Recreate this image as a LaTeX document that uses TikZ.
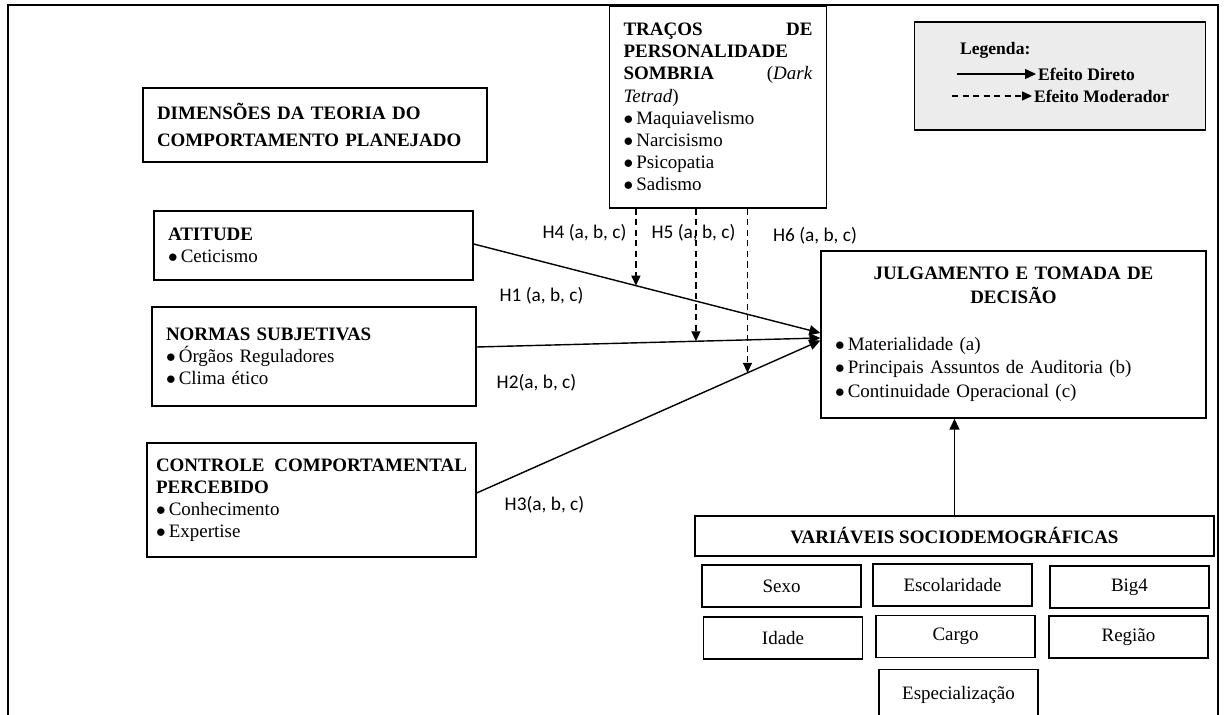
\documentclass[tikz,border=0pt]{standalone}
\usepackage{fontspec}
\setmainfont{Liberation Serif}
\newfontfamily\calibri{Carlito}
\usetikzlibrary{arrows.meta}

\newcommand{\marca}{$\bullet$\,}

\tikzset{
  caixa/.style={draw, line width=0.8pt, inner xsep=0.28cm, inner ysep=0pt, align=left,
                font=\fontsize{10.8}{12.6}\selectfont},
  pequena/.style={draw, line width=0.8pt, minimum width=3.18cm, minimum height=0.84cm,
                  font=\fontsize{10.8}{12.6}\selectfont},
  direto/.style={line width=0.8pt, -{Triangle[length=2.2mm,width=2mm]}},
  moderador/.style={line width=0.8pt, dash pattern=on 3.5pt off 2.5pt, -{Triangle[length=2mm,width=1.8mm]}},
  hip/.style={font=\calibri\fontsize{11}{13}\selectfont},
  leg/.style={anchor=west, inner sep=1pt, font=\bfseries\fontsize{10}{12}\selectfont},
}

\begin{document}
\begin{tikzpicture}[x=0.02cm, y=-0.02cm]
    \useasboundingbox (0,0) rectangle (1226,715);
    \clip (0,0) rectangle (1226,715);
    \draw[line width=0.8pt] (8,720) -- (8,5) -- (1218,5) -- (1218,720);

    \node[caixa, text width=6.32cm, minimum height=1.48cm, font=\bfseries\fontsize{10.8}{15}\selectfont]
          (dimensoes) at (315,125) {DIMENSÕES DA TEORIA DO\\ COMPORTAMENTO PLANEJADO};
    \node[caixa, text width=3.78cm, minimum height=4.04cm] (tracos) at (718,107)
          {\textbf{TRAÇOS \hfill DE}\\ \textbf{PERSONALIDADE}\\ \textbf{SOMBRIA} \hfill (\textit{Dark}\\
           \textit{Tetrad})\\ \marca Maquiavelismo\\ \marca Narcisismo\\
           \marca Psicopatia\\ \marca Sadismo};
    \node[draw, line width=0.8pt, fill=gray!15, minimum width=5.82cm, minimum height=2.16cm]
          (legenda) at (1060,76) {};
    \node[leg] (legtit) at (958,50) {Legenda:};
    \node[leg] (legdir) at (1036,74) {Efeito Direto};
    \node[leg] (legmod) at (1032,96) {Efeito Moderador};
    \coordinate (ld) at (957,74);
    \coordinate (lm) at (952,96);
    \draw[direto] (ld) -- (legdir.west);
    \draw[moderador] (lm) -- (legmod.west);

    \node[caixa, text width=5.82cm, minimum height=1.38cm] (atitude) at (313.5,245.5)
          {\textbf{ATITUDE}\\ \marca Ceticismo};
    \node[caixa, text width=5.92cm, minimum height=1.98cm] (normas) at (314,356.5)
          {\textbf{NORMAS SUBJETIVAS}\\ \marca Órgãos Reguladores\\ \marca Clima ético};
    \node[caixa, inner xsep=0.18cm, text width=6.22cm, minimum height=2.28cm] (controle) at (311.5,500)
          {\textbf{CONTROLE \hfill COMPORTAMENTAL}\\ \textbf{PERCEBIDO}\\ \marca Conhecimento\\
           \marca Expertise};

    \node[caixa, text width=7.14cm, minimum height=3.34cm, font=\fontsize{10.8}{13.5}\selectfont]
          (julgamento) at (1013.5,334.5)
          {\makebox[7.14cm]{\textbf{JULGAMENTO E TOMADA DE}}\\ \makebox[7.14cm]{\textbf{DECISÃO}}\\[13pt]
           \marca Materialidade (a)\\ \marca Principais Assuntos de Auditoria (b)\\
           \marca Continuidade Operacional (c)};

    \node[draw, line width=0.8pt, minimum width=10.38cm, minimum height=0.8cm,
          font=\bfseries\fontsize{10.8}{12.6}\selectfont] (variaveis) at (954.5,536)
          {VARIÁVEIS SOCIODEMOGRÁFICAS};
    \node[pequena] (sexo) at (781.5,586) {Sexo};
    \node[pequena] (escolaridade) at (952.5,585) {Escolaridade};
    \node[pequena] (big4) at (1129.5,587) {Big4};
    \node[pequena] (idade) at (783,638) {Idade};
    \node[pequena] (cargo) at (955.5,636.5) {Cargo};
    \node[pequena] (regiao) at (1128.5,637) {Região};
    \node[pequena, anchor=north, minimum height=1.0cm] (especializacao) at (958.5,669) {Especialização};

    \draw[direto] ([yshift=0.03cm]atitude.east) -- coordinate[pos=0.468] (m1) ([yshift=0.03cm]julgamento.west);
    \draw[direto] ([yshift=0.19cm]normas.east) -- coordinate[pos=0.638] (m2) ([yshift=-0.07cm]julgamento.west);
    \draw[direto] ([yshift=0.14cm]controle.east) -- coordinate[pos=0.788] (m3) ([yshift=-0.12cm]julgamento.west);
    \draw[moderador] (tracos.south -| m1) -- (m1);
    \draw[moderador] (tracos.south -| m2) -- (m2);
    \draw[moderador] (tracos.south -| m3) -- (m3);
    \draw[direto] (variaveis.north) -- (variaveis.north |- julgamento.south);

    \node[hip] (h4) at (584.5,233) {H4 (a, b, c)};
    \node[hip] (h5) at (693.5,233) {H5 (a, b, c)};
    \node[hip] (h6) at (815,236) {H6 (a, b, c)};
    \node[hip] (h1) at (541.5,296) {H1 (a, b, c)};
    \node[hip] (h2) at (536.5,383) {H2(a, b, c)};
    \node[hip] (h3) at (544.5,505) {H3(a, b, c)};
\end{tikzpicture}
\end{document}
